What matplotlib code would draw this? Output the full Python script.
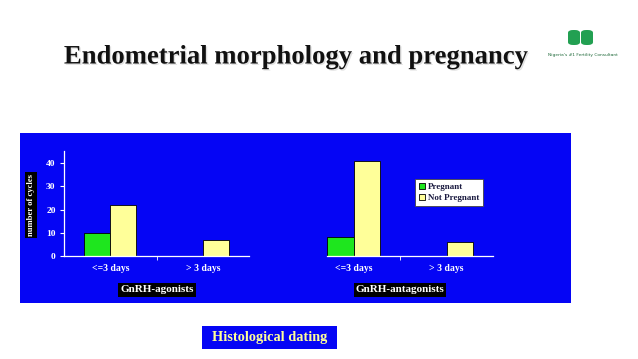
import matplotlib
matplotlib.use("Agg")
import matplotlib.pyplot as plt
from matplotlib.patches import Rectangle, FancyBboxPatch
import matplotlib.patheffects as pe
import numpy as np

categories = ["<=3 days", "> 3 days"]
agonist_pregnant = [10, 0]
agonist_not_pregnant = [22, 7]
antagonist_pregnant = [8, 0]
antagonist_not_pregnant = [41, 6]
yticks = [0, 10, 20, 30, 40]
series_names = ["Pregnant", "Not Pregnant"]

W, H = 638, 359
fig = plt.figure(figsize=(W / 100, H / 100), dpi=100)
fig.patch.set_facecolor("white")
serif = ["Liberation Serif", "DejaVu Serif"]

BLUE = "#0505F5"
GREEN = "#1EE61E"
YELLOW = "#FFFF99"

def fx(px):
    return px / W

def fy(py):
    return 1 - py / H

# blue panel
fig.patches.append(Rectangle((fx(20), fy(303)), fx(571) - fx(20), fy(133) - fy(303),
                             transform=fig.transFigure, facecolor=BLUE, edgecolor="none", zorder=-5))

# title
fig.text(fx(296), fy(57), "Endometrial morphology and pregnancy", ha="center", va="center",
         fontsize=19.2, fontweight="bold", family=serif, color="#111111",
         path_effects=[pe.withSimplePatchShadow(offset=(1.0, -1.0), shadow_rgbFace="#aaaaaa", alpha=0.35)])

# logo
for lx in (568, 581):
    fig.patches.append(FancyBboxPatch((fx(lx), fy(45)), fx(12), fy(30) - fy(45),
                                      boxstyle="round,pad=0,rounding_size=0.008", transform=fig.transFigure,
                                      facecolor="#22A052", edgecolor="none"))
fig.text(fx(583), fy(55), "Nigeria's #1 Fertility Consultant", ha="center", va="center",
         fontsize=3.2, color="#1F6A3A")

ylim = (0, 45)
x = np.arange(len(categories))
bw = 0.28

def make_axes(left_px, right_px, pregnant, notpreg, show_y, spine_start):
    ax = fig.add_axes([fx(left_px), fy(256), fx(right_px) - fx(left_px), fy(151.4) - fy(256)])
    ax.patch.set_alpha(0)
    ax.bar(x - bw / 2, pregnant, bw, color=GREEN, edgecolor="black", linewidth=0.6, label=series_names[0])
    ax.bar(x + bw / 2, notpreg, bw, color=YELLOW, edgecolor="black", linewidth=0.6, label=series_names[1])
    ax.set_xlim(-0.5, 1.5)
    ax.set_ylim(*ylim)
    for s in ["top", "right"]:
        ax.spines[s].set_visible(False)
    ax.spines["bottom"].set_color("white")
    ax.spines["bottom"].set_linewidth(0.9)
    ax.spines["bottom"].set_bounds(spine_start, 1.5)
    ax.set_xticks(x)
    ax.set_xticklabels(categories, color="white", fontsize=7, fontweight="bold", family=serif)
    ax.tick_params(axis="x", length=0, pad=6)
    ax.set_xticks([0.5], minor=True)
    ax.tick_params(axis="x", which="minor", length=3, color="white", direction="out")
    if show_y:
        ax.spines["left"].set_color("white")
        ax.spines["left"].set_linewidth(0.9)
        ax.set_yticks(yticks)
        ax.set_yticklabels([str(v) for v in yticks], color="white", fontsize=6.8,
                           fontweight="bold", family=serif)
        ax.tick_params(axis="y", length=3, color="white", pad=3)
    else:
        ax.spines["left"].set_visible(False)
        ax.set_yticks([])
    return ax

ax1 = make_axes(64, 249, agonist_pregnant, agonist_not_pregnant, True, -0.5)
ax2 = make_axes(307, 493, antagonist_pregnant, antagonist_not_pregnant, False, -0.28)

box = dict(facecolor="black", edgecolor="none", pad=1.5)
fig.text(fx(31), fy(205), "number of cycles", rotation=90, ha="center", va="center",
         fontsize=6.2, fontweight="bold", family=serif, color="white", bbox=box)
fig.text(fx(157), fy(290), "GnRH-agonists", ha="center", va="center",
         fontsize=8, fontweight="bold", family=serif, color="white", bbox=box)
fig.text(fx(400), fy(290), "GnRH-antagonists", ha="center", va="center",
         fontsize=8, fontweight="bold", family=serif, color="white", bbox=box)

leg = ax2.legend(loc="upper left", bbox_to_anchor=(fx(410), fy(174)), bbox_transform=fig.transFigure,
                 frameon=True, fancybox=False, framealpha=1, handlelength=0.7, handleheight=0.7,
                 handletextpad=0.3, borderpad=0.45, labelspacing=0.35,
                 prop={"family": serif, "weight": "bold", "size": 6.5})
leg.get_frame().set_facecolor("white")
leg.get_frame().set_edgecolor("#444444")
leg.get_frame().set_linewidth(0.6)
for t in leg.get_texts():
    t.set_color("#1a1a40")

# Histological dating box
fig.patches.append(Rectangle((fx(202), fy(349)), fx(337) - fx(202), fy(326) - fy(349),
                             transform=fig.transFigure, facecolor=BLUE, edgecolor="none"))
fig.text(fx(270), fy(338), "Histological dating", ha="center", va="center",
         fontsize=10.3, fontweight="bold", family=serif, color=YELLOW)

fig.savefig("out.png", dpi=100)
